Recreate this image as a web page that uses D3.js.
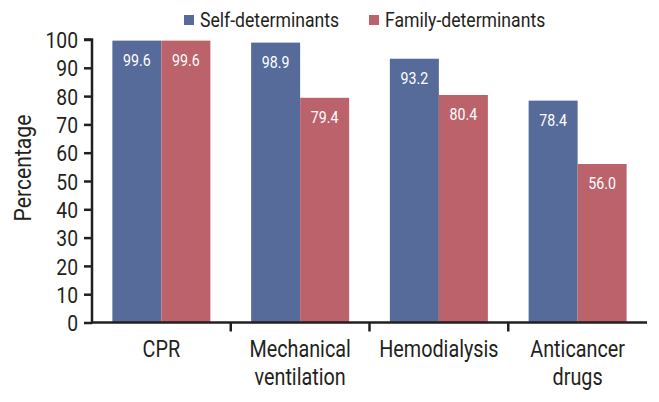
<!DOCTYPE html>
<html><head><meta charset="utf-8">
<script src="https://cdn.jsdelivr.net/npm/d3@7"></script>
<style>body{margin:0;background:#fff}svg{display:block}text{font-family:Roboto,"Liberation Sans",Arial,sans-serif;font-weight:400}</style>
</head><body><svg width="659" height="402"></svg>
<script>
const categories = [["CPR"], ["Mechanical","ventilation"], ["Hemodialysis"], ["Anticancer","drugs"]];
const seriesNames = ["Self-determinants", "Family-determinants"];
const selfValues = [99.6, 98.9, 93.2, 78.4];
const familyValues = [99.6, 79.4, 80.4, 56.0];
const yTicks = [0,10,20,30,40,50,60,70,80,90,100];
const colors = ["#566B9A", "#BC626B"];

(function(){
const svg = d3.select("svg");
const SX = 0.86;
const pL = 92, pR = 647, pT = 39.5, pB = 322.5;
const x = d3.scaleBand().domain(d3.range(categories.length)).range([pL, pR]).paddingInner(0).paddingOuter(0);
const y = d3.scaleLinear().domain([0, 100]).range([pB, pT]);
const barW = 49;
const series = [selfValues, familyValues];

function addText(parent, tx, ty, str, size, anchor, fill) {
  return parent.append("text")
    .attr("transform", `translate(${tx},${ty}) scale(${SX},1)`)
    .attr("text-anchor", anchor).attr("font-size", size).attr("fill", fill).text(str);
}

series.forEach((vals, s) => {
  svg.append("g").selectAll("rect").data(vals).join("rect")
    .attr("x", (d, i) => x(i) + x.bandwidth()/2 - barW + s*barW)
    .attr("y", d => y(d))
    .attr("width", barW)
    .attr("height", d => pB - y(d))
    .attr("fill", colors[s]);
  const g = svg.append("g");
  vals.forEach((d, i) => addText(g, x(i) + x.bandwidth()/2 - barW/2 + s*barW, y(d) + 25, d.toFixed(1), 16.5, "middle", "#fff"));
});

// y axis
const ya = svg.append("g").attr("transform", `translate(${pL},0)`)
  .call(d3.axisLeft(y).tickValues(yTicks).tickSize(8).tickPadding(6));
ya.select(".domain").attr("stroke", "#231f20").attr("stroke-width", 2.5).attr("d", `M-8,${pT}H0V${pB+1}`);
ya.selectAll(".tick line").attr("stroke", "#231f20").attr("stroke-width", 2.5);
ya.selectAll(".tick text").attr("font-size", 22.5).attr("fill", "#231f20")
  .attr("font-family", 'Roboto,"Liberation Sans",Arial,sans-serif').attr("dy", "0.36em")
  .attr("x", -14 / SX).attr("transform", `scale(${SX},1)`);

// x axis
const xa = svg.append("g").attr("transform", `translate(0,${pB})`)
  .call(d3.axisBottom(x).tickValues([]).tickSizeOuter(0));
xa.select(".domain").attr("stroke", "#231f20").attr("stroke-width", 2.5).attr("d", `M${pL-1},0H${pR}`);
d3.range(1, categories.length).forEach(i => {
  xa.append("line").attr("x1", x(i)).attr("x2", x(i)).attr("y1", 0).attr("y2", 9)
    .attr("stroke", "#231f20").attr("stroke-width", 2.5);
});
categories.forEach((lines, i) => {
  lines.forEach((l, k) => addText(svg, x(i) + x.bandwidth()/2, 357 + k*28, l, 23, "middle", "#231f20"));
});

// y title
svg.append("text").attr("transform", `translate(31,168) rotate(-90) scale(0.92,1)`).attr("text-anchor", "middle")
  .attr("font-size", 23).attr("fill", "#231f20").text("Percentage");

// legend
const legX = [184, 369];
seriesNames.forEach((n, s) => {
  svg.append("rect").attr("x", legX[s]).attr("y", 15).attr("width", 10).attr("height", 10).attr("fill", colors[s]);
  addText(svg, legX[s] + 16, 26.5, n, 20.5, "start", "#231f20");
});
})();
</script></body></html>
